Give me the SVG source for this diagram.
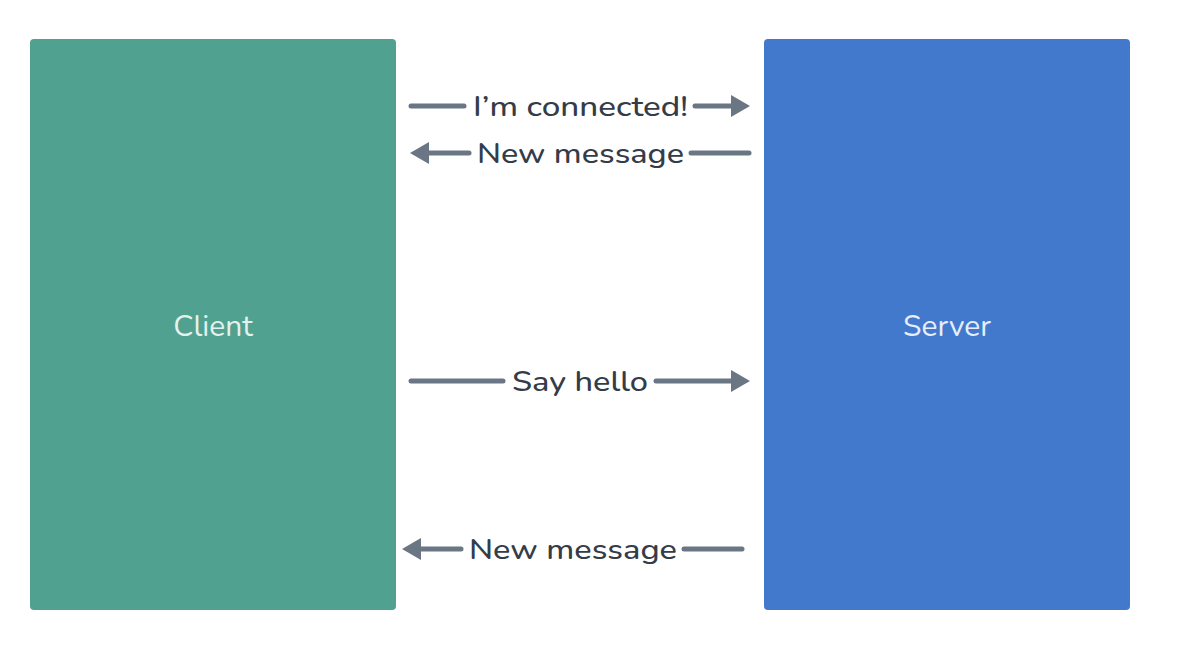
<svg xmlns="http://www.w3.org/2000/svg" width="1194" height="650" viewBox="0 0 1194 650">
<style>
.lbl{font-family:"Nunito","Lato","Noto Sans","DejaVu Sans",sans-serif;font-size:28px;font-weight:500;fill:#343c48;}
.node{font-family:"Nunito","Lato","Noto Sans","DejaVu Sans",sans-serif;font-size:30px;text-anchor:middle;}
.ln{stroke:#6b7684;stroke-width:5;stroke-linecap:round;fill:none;}
.ah{fill:#6b7684;}
</style>
<rect width="1194" height="650" fill="#ffffff"/>
<g id="client">
<rect x="30" y="39" width="366" height="571" rx="4" fill="#50a18f"/>
<text class="node" x="213" y="336" fill="#e4f2ee">Client</text>
</g>
<g id="server">
<rect x="764" y="39" width="366" height="571" rx="4" fill="#4379cc"/>
<text class="node" x="947" y="336" fill="#e6eefa">Server</text>
</g>
<g id="connectors">
<line class="ln" x1="411" y1="106" x2="464" y2="106"/>
<line class="ln" x1="695" y1="106" x2="734" y2="106"/>
<polygon class="ah" points="750,106 731,95 731,117"/>
<text class="lbl" x="473" y="116" textLength="215" lengthAdjust="spacingAndGlyphs">I’m connected!</text>

<polygon class="ah" points="410,153 429,142 429,164"/>
<line class="ln" x1="426" y1="153" x2="469" y2="153"/>
<line class="ln" x1="691" y1="153" x2="749" y2="153"/>
<text class="lbl" x="477" y="163" textLength="207" lengthAdjust="spacingAndGlyphs">New message</text>

<line class="ln" x1="411" y1="381" x2="503" y2="381"/>
<line class="ln" x1="656" y1="381" x2="734" y2="381"/>
<polygon class="ah" points="750,381 731,370 731,392"/>
<text class="lbl" x="512" y="391" textLength="136" lengthAdjust="spacingAndGlyphs">Say hello</text>

<polygon class="ah" points="402,549 421,538 421,560"/>
<line class="ln" x1="418" y1="549" x2="461" y2="549"/>
<line class="ln" x1="684" y1="549" x2="742" y2="549"/>
<text class="lbl" x="469" y="559" textLength="208" lengthAdjust="spacingAndGlyphs">New message</text>
</g>
</svg>
